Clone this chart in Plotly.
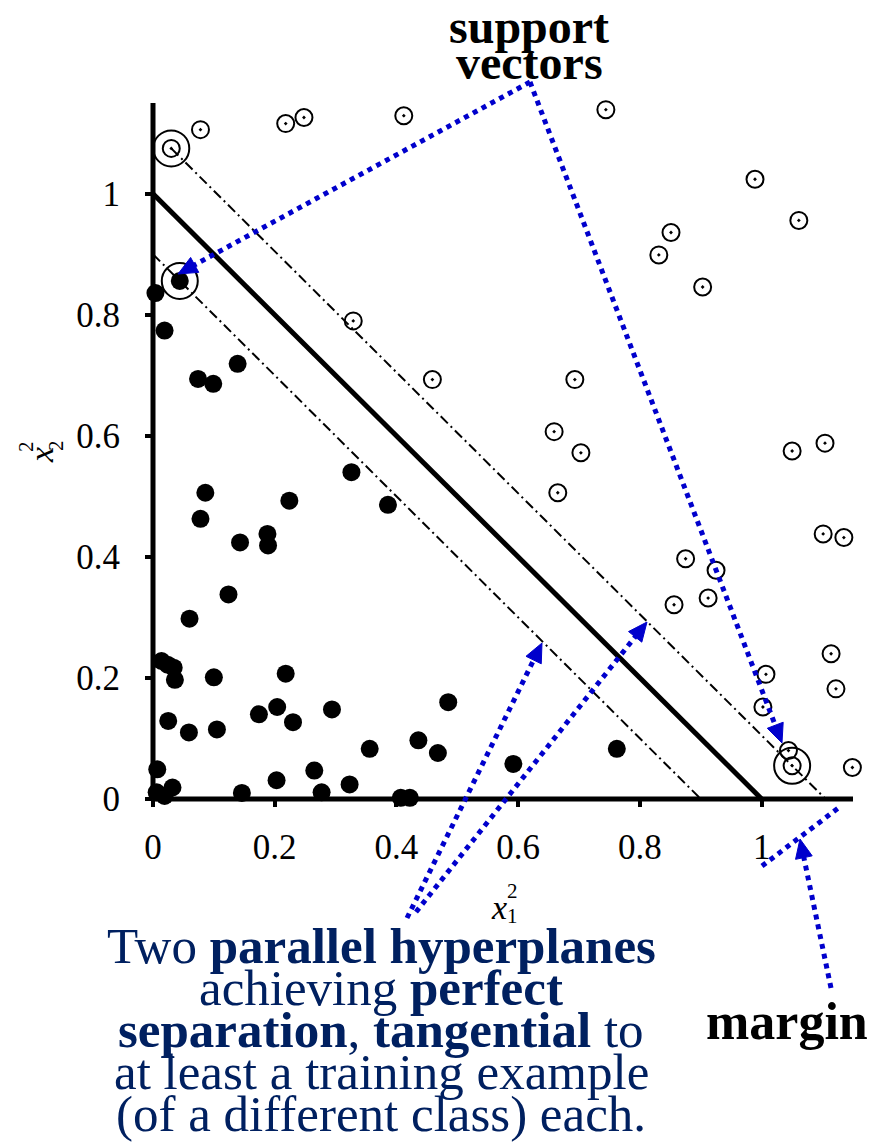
import math
import plotly.graph_objects as go

# ---------------- data ----------------
# class "-1" (filled dots)
neg_x1 = [0.044, 0.004, 0.019, 0.139, 0.074, 0.099, 0.326, 0.386, 0.086, 0.078,
          0.224, 0.143, 0.188, 0.189, 0.124, 0.060, 0.014, 0.024, 0.034, 0.036,
          0.100, 0.218, 0.025, 0.059, 0.105, 0.174, 0.204, 0.230, 0.294, 0.485,
          0.356, 0.436, 0.468, 0.592, 0.762, 0.007, 0.032, 0.006, 0.019, 0.146,
          0.203, 0.265, 0.277, 0.323, 0.407, 0.422]
neg_x2 = [0.856, 0.836, 0.774, 0.719, 0.694, 0.686, 0.540, 0.486, 0.506, 0.463,
          0.493, 0.424, 0.438, 0.419, 0.338, 0.298, 0.228, 0.222, 0.217, 0.197,
          0.201, 0.207, 0.129, 0.110, 0.115, 0.140, 0.152, 0.127, 0.148, 0.160,
          0.083, 0.097, 0.076, 0.058, 0.083, 0.049, 0.019, 0.011, 0.005, 0.010,
          0.031, 0.047, 0.011, 0.024, 0.002, 0.002]

# class "+1" (open circles with a dot)
pos_x1 = [0.030, 0.078, 0.218, 0.248, 0.412, 0.744, 0.989, 1.061, 0.851, 0.831,
          0.903, 0.329, 0.459, 0.693, 0.659, 0.703, 0.665, 0.875, 0.925, 0.856,
          0.912, 1.007, 1.002, 1.044, 1.050, 1.149, 1.114, 1.122, 1.101, 1.135,
          1.104, 1.050]
pos_x2 = [1.075, 1.106, 1.116, 1.126, 1.129, 1.139, 1.024, 0.956, 0.936, 0.899,
          0.846, 0.790, 0.693, 0.693, 0.607, 0.572, 0.506, 0.397, 0.378, 0.321,
          0.332, 0.206, 0.152, 0.080, 0.055, 0.052, 0.240, 0.182, 0.438, 0.432,
          0.588, 0.575]

# support vectors (big rings)
sv_x1 = [0.030, 0.044, 1.050]
sv_x2 = [1.075, 0.856, 0.055]

# hyperplanes x1 + x2 = c : lower margin, separator, upper margin
hyperplane_offsets = [0.9, 1.0, 1.105]

tick_vals = [0, 0.2, 0.4, 0.6, 0.8, 1]
tick_text = ["0", "0.2", "0.4", "0.6", "0.8", "1"]

# ---------------- layout geometry ----------------
OFF = 8                      # default page margin of the html body
W, H = 877 - OFF, 1143 - OFF
ML, MT = 153 - OFF, 103 - OFF
MR, MB = 24, 344
PW, PH = W - ML - MR, H - MT - MB
AX_MAX = 1.15
SERIF = "Liberation Serif"
BLUE = "#0000cc"
NAVY = "#002060"


def pp(px, py):
    """window pixel -> paper coordinates"""
    return (px - OFF - ML) / PW, (H - MB - (py - OFF)) / PH


fig = go.Figure()

# hyperplanes
c_lo, c_mid, c_up = hyperplane_offsets
fig.add_trace(go.Scatter(x=[0, c_lo], y=[c_lo, 0], mode="lines",
                         line=dict(color="black", width=2, dash="10px,4px,2px,4px"),
                         hoverinfo="skip", showlegend=False))
fig.add_trace(go.Scatter(x=[sv_x1[0], c_up], y=[c_up - sv_x1[0], 0], mode="lines",
                         line=dict(color="black", width=2, dash="10px,4px,2px,4px"),
                         hoverinfo="skip", showlegend=False))
fig.add_trace(go.Scatter(x=[0, c_mid], y=[c_mid, 0], mode="lines",
                         line=dict(color="black", width=5),
                         hoverinfo="skip", showlegend=False))

# points
fig.add_trace(go.Scatter(x=neg_x1, y=neg_x2, mode="markers",
                         marker=dict(symbol="circle", size=18, color="black",
                                     line=dict(width=0)),
                         cliponaxis=False, showlegend=False))
fig.add_trace(go.Scatter(x=pos_x1, y=pos_x2, mode="markers",
                         marker=dict(symbol="circle-open-dot", size=17, color="black",
                                     line=dict(width=2, color="black")),
                         cliponaxis=False, showlegend=False))
fig.add_trace(go.Scatter(x=sv_x1, y=sv_x2, mode="markers",
                         marker=dict(symbol="circle-open", size=36, color="black",
                                     line=dict(width=2, color="black")),
                         cliponaxis=False, showlegend=False))

shapes = []
# axis lines
x0p, y0p = pp(153, 799)
x1p, _ = pp(853, 799)
_, y1p = pp(153, 103)
shapes.append(dict(type="line", xref="paper", yref="paper", x0=x0p, y0=y0p, x1=x1p, y1=y0p,
                   line=dict(color="black", width=5), layer="below"))
shapes.append(dict(type="line", xref="paper", yref="paper", x0=x0p, y0=y0p, x1=x0p, y1=y1p,
                   line=dict(color="black", width=5), layer="below"))


def dotted(p0, p1, width=5):
    a = pp(*p0)
    b = pp(*p1)
    shapes.append(dict(type="line", xref="paper", yref="paper",
                       x0=a[0], y0=a[1], x1=b[0], y1=b[1],
                       line=dict(color=BLUE, width=width, dash="dot")))


def arrow(tail, tip, L=19, Wd=8.5):
    dx, dy = tip[0] - tail[0], tip[1] - tail[1]
    n = math.hypot(dx, dy)
    ux, uy = dx / n, dy / n
    base = (tip[0] - ux * L, tip[1] - uy * L)
    dotted(tail, (base[0] + ux * 2, base[1] + uy * 2))
    left = (base[0] - uy * Wd, base[1] + ux * Wd)
    right = (base[0] + uy * Wd, base[1] - ux * Wd)
    pts = [pp(*tip), pp(*left), pp(*right)]
    path = "M{:.5f},{:.5f} L{:.5f},{:.5f} L{:.5f},{:.5f} Z".format(
        pts[0][0], pts[0][1], pts[1][0], pts[1][1], pts[2][0], pts[2][1])
    shapes.append(dict(type="path", xref="paper", yref="paper", path=path,
                       fillcolor=BLUE, line=dict(color=BLUE, width=1)))


arrow((530, 82), (178, 274))
arrow((530, 82), (782, 743))
arrow((407, 918), (542, 643))
arrow((416, 912), (647, 622))
arrow((831, 988), (800, 839))
dotted((762, 866), (841, 806))

annotations = []


def text(s, px, py, size, color="black", angle=0, xanchor="center"):
    x, y = pp(px, py)
    annotations.append(dict(text=s, x=x, y=y, xref="paper", yref="paper",
                            showarrow=False, xanchor=xanchor, yanchor="middle",
                            textangle=angle,
                            font=dict(family=SERIF, size=size, color=color)))


# callouts
text("<b>support</b>", 529, 27, 48)
text("<b>vectors</b>", 529, 62, 48)
text("<b>margin</b>", 787, 1021, 52)
bottom_lines = ["Two <b>parallel hyperplanes</b>",
                "achieving <b>perfect</b>",
                "<b>separation</b>, <b>tangential</b> to",
                "at least a training example",
                "(of a different class) each."]
for i, s in enumerate(bottom_lines):
    text(s, 381, 946 + 42 * i, 51, NAVY)

# axis titles  x_1^2 and x_2^2
text("<i>x</i>", 499, 907, 34)
text("2", 513, 891, 21)
text("1", 513, 916, 21)
text("<i>x</i>", 41, 455, 34, angle=-90)
text("2", 26, 446, 21, angle=-90)
text("2", 56, 446, 21, angle=-90)

axis_common = dict(range=[0, AX_MAX], showgrid=False, zeroline=False, showline=False,
                   ticks="outside", ticklen=7, tickwidth=4, tickcolor="black",
                   tickvals=tick_vals, ticktext=tick_text,
                   tickfont=dict(family=SERIF, size=35, color="black"))

fig.update_layout(
    width=W, height=H,
    margin=dict(l=ML, r=MR, t=MT, b=MB, pad=0, autoexpand=False),
    paper_bgcolor="white", plot_bgcolor="white",
    xaxis=dict(**axis_common, ticklabelstandoff=10, automargin=False),
    yaxis=dict(**axis_common, ticklabelstandoff=18, automargin=False),
    shapes=shapes, annotations=annotations,
    showlegend=False,
)

fig.write_html("out.html")
